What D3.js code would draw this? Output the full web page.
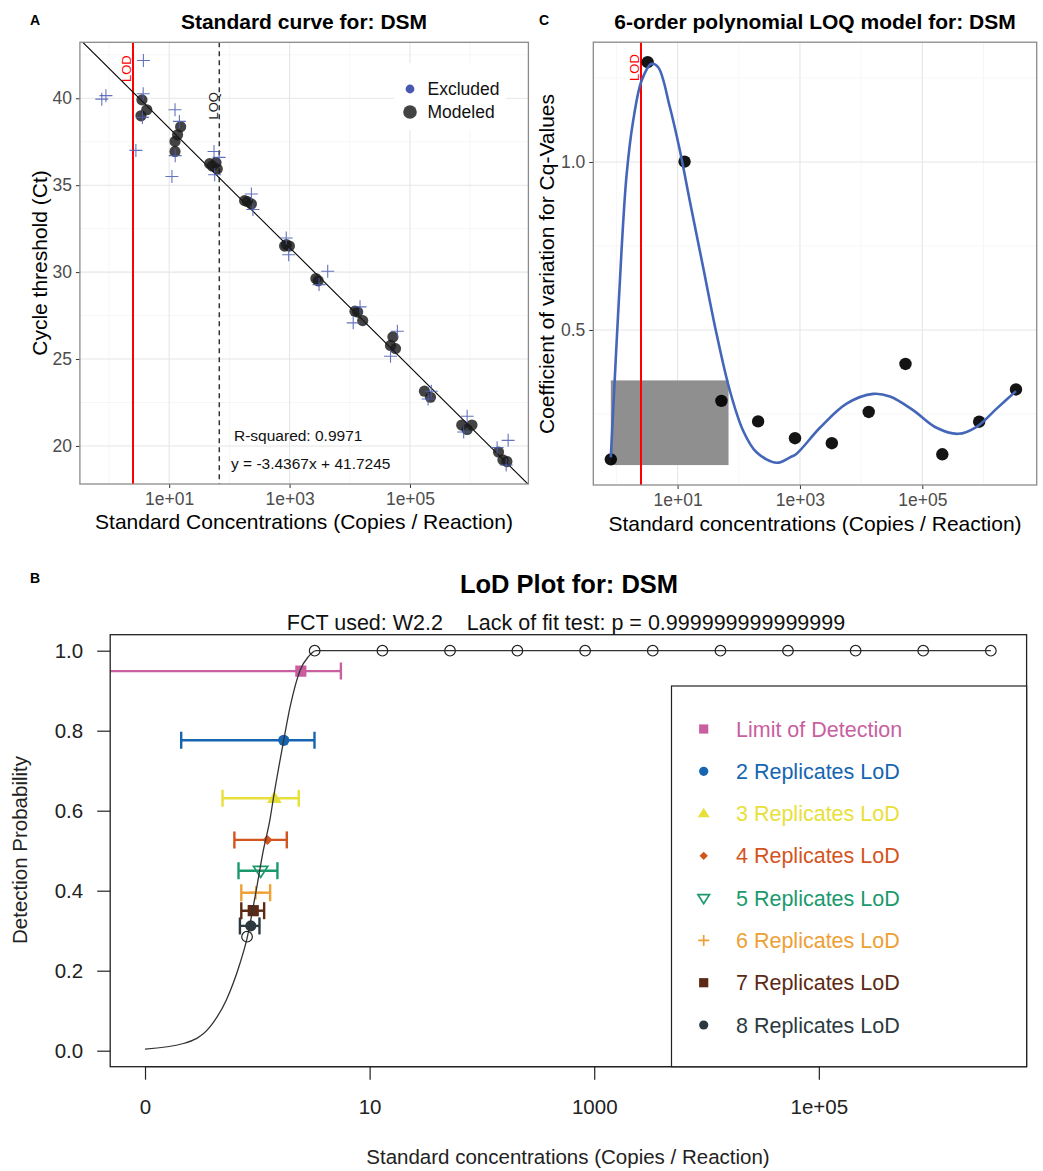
<!DOCTYPE html>
<html><head><meta charset="utf-8">
<script src="https://cdn.jsdelivr.net/npm/d3@7"></script>
<style>
body{margin:0;background:#fff}
text{font-family:"Liberation Sans",Arial,Helvetica,sans-serif}
</style>
</head><body>
<svg id="chart" width="1043" height="1171"></svg>
<script>
// ================= DATA =================
// Panel A : standard curve
const modeledConc = [3.53,3.4,4.25, 15.5,13.8,12.5,12.5, 47,52,63,60, 179,199,232, 883,993,826, 2735,2990, 12200,16400,13500, 47500,52000,57500, 174000,219000, 724000,1070000,890000, 2950000,4070000,3500000];
const modeledCt   = [39.91,38.99,39.34, 38.36,37.9,37.52,36.94, 36.24,36.1,35.93,36.3, 34.11,34.06,33.92, 31.58,31.5,31.5, 29.63,29.5, 27.75,27.21,27.7, 25.78,26.27,25.6, 23.15,22.8, 21.2,21.2,20.95, 19.65,19.1,19.2];
const excludedConc = [0.76,0.89, 3.73,2.8,3.7,3.6, 12.5,11.1,14.8,12.6, 55.6,67.5,57, 232,246, 880,966, 4300,3090, 11400,14800, 47500,61700, 226000,200000, 890000,780000, 4270000,2800000,3960000];
const excludedCt   = [39.95,40.15, 42.17,37.0,40.26,38.9, 39.34,35.5,38.67,36.7, 36.94,36.6,35.6, 34.49,33.6, 31.96,31.0, 30.05,29.28, 27.08,28.0, 25.16,26.6, 23.15,22.7, 21.71,20.8, 20.32,19.9,18.9];
const fitSlope = -3.4367, fitIntercept = 41.7245, rSquared = "0.9971";
const lodValue = 2.55, loqValue = 68;
const aYTicks = [20,25,30,35,40];
const logTicks = [10,1000,100000];
const logTickLabels = ["1e+01","1e+03","1e+05"];

// Panel C : LOQ model
const standardConc = [0.81,3.24,13,52,207,830,3320,13300,53100,212500,850000,3400000];
const cvValues = [0.115,1.297,1.001,0.289,0.228,0.178,0.163,0.256,0.399,0.130,0.227,0.323];
const cvCurveConc = [0.81,1.01,1.22,1.47,1.88,2.58,3.76,4.82,7.48,10.9,15.8,26.2,43.4,71.6,118,195,417,686,883,2120,5790,15800,29600,71300,171000,388000,773000,1640000,3400000];
const cvCurveVal  = [0.121,0.468,0.746,0.964,1.123,1.242,1.292,1.282,1.163,1.034,0.885,0.686,0.488,0.319,0.20,0.136,0.105,0.121,0.132,0.209,0.281,0.310,0.302,0.261,0.209,0.191,0.212,0.266,0.318];
const loqBoxCv = [0.098,0.35];
const cYTicks = [0.5,1.0];

// Panel B : LoD plot
const detectProb = [0.285,1,1,1,1,1,1,1,1,1,1,1];
const lodCurveConc = [0.1,0.22,0.38,0.53,0.70,0.81,0.955,1.13,1.30,1.39,1.71,1.96,2.41,2.85,3.34,3400000];
const lodCurveProb = [0.004,0.018,0.06,0.127,0.218,0.281,0.385,0.50,0.58,0.631,0.773,0.86,0.952,0.985,1.0,1.0];
const lodSeries = ["Limit of Detection","2 Replicates LoD","3 Replicates LoD","4 Replicates LoD","5 Replicates LoD","6 Replicates LoD","7 Replicates LoD","8 Replicates LoD"];
const lodSeriesShape = ["square","circle","triangle","diamond","triDown","plus","square","circle"];
const lodSeriesColor = ["#C95F9F","#1565B0","#E8E03A","#D4541E","#1A9A6C","#EDA035","#5C2A14","#2C3A40"];
const lodSeriesProb = [0.949,0.776,0.631,0.527,0.45,0.395,0.35,0.312];
const lodSeriesEst  = [2.44,1.72,1.42,1.23,1.07,0.97,0.92,0.875];
const lodSeriesLow  = [0.02,0.21,0.49,0.625,0.68,0.72,0.72,0.70];
const lodSeriesHigh = [5.55,3.23,2.34,1.83,1.51,1.30,1.15,1.045];
const bXTicks = [0.1,10,1000,100000];
const bXTickLabels = ["0","10","1000","1e+05"];
const bYTicks = [0,0.2,0.4,0.6,0.8,1.0];

// ================= DRAW =================
const svg = d3.select("#chart");
svg.append("rect").attr("width",1043).attr("height",1171).attr("fill","#fff");
const defs = svg.append("defs");

function ggGrid(g, x, y, xMajor, xMinor, yMajor, yMinor){
  const [x0,x1] = x.range(), [y0,y1] = y.range();
  g.append("rect").attr("x",x0).attr("y",y1).attr("width",x1-x0).attr("height",y0-y1).attr("fill","#fff");
  g.selectAll(null).data(xMinor).join("line").attr("x1",d=>x(d)).attr("x2",d=>x(d)).attr("y1",y1).attr("y2",y0).attr("stroke","#f2f2f2").attr("stroke-width",0.7);
  g.selectAll(null).data(yMinor).join("line").attr("y1",d=>y(d)).attr("y2",d=>y(d)).attr("x1",x0).attr("x2",x1).attr("stroke","#f2f2f2").attr("stroke-width",0.7);
  g.selectAll(null).data(xMajor).join("line").attr("x1",d=>x(d)).attr("x2",d=>x(d)).attr("y1",y1).attr("y2",y0).attr("stroke","#e6e6e6").attr("stroke-width",1.1);
  g.selectAll(null).data(yMajor).join("line").attr("y1",d=>y(d)).attr("y2",d=>y(d)).attr("x1",x0).attr("x2",x1).attr("stroke","#e6e6e6").attr("stroke-width",1.1);
}
function ggAxes(g, x, y, yTicks, yFmt){
  const [x0,x1] = x.range(), [y0,y1] = y.range();
  const ax = g.append("g").attr("transform",`translate(0,${y0})`)
    .call(d3.axisBottom(x).tickValues(logTicks).tickFormat((d,i)=>logTickLabels[i]).tickSize(4).tickPadding(5));
  const ay = g.append("g").attr("transform",`translate(${x0},0)`)
    .call(d3.axisLeft(y).tickValues(yTicks).tickFormat(yFmt).tickSize(4).tickPadding(4));
  [ax,ay].forEach(a=>{
    a.select(".domain").remove();
    a.selectAll(".tick line").attr("stroke","#333");
    a.selectAll(".tick text").attr("fill","#4d4d4d").style("font-size","17.5px").style("font-family",'"Liberation Sans",Arial,sans-serif');
  });
  g.append("rect").attr("x",x0).attr("y",y1).attr("width",x1-x0).attr("height",y0-y1)
    .attr("fill","none").attr("stroke","#8a8a8a").attr("stroke-width",1.3);
}
function clip(id, x, y){
  const [x0,x1] = x.range(), [y0,y1] = y.range();
  defs.append("clipPath").attr("id",id).append("rect").attr("x",x0).attr("y",y1).attr("width",x1-x0).attr("height",y0-y1);
  return `url(#${id})`;
}
// align a 2px vertical line on an odd pixel boundary so its colour survives
const snap2 = v => 2*Math.round((v-1)/2) + 1;
function redLine(g, xpos, y){
  g.append("rect").attr("x",snap2(xpos)-1).attr("y",y.range()[1]).attr("width",2).attr("height",y.range()[0]-y.range()[1])
    .attr("fill","#ff0000").attr("shape-rendering","crispEdges");
}

// ---------- Panel A ----------
const A = svg.append("g");
const xA = d3.scaleLog().domain([10**-0.483, 10**6.967]).range([79.9,528.4]);
const yA = d3.scaleLinear().domain([17.81,43.22]).range([484,42.3]);
ggGrid(A, xA, yA, logTicks, [1,100,10000,1000000], aYTicks, [22.5,27.5,32.5,37.5,42.5]);
const aPlot = A.append("g").attr("clip-path", clip("clipA", xA, yA));
redLine(aPlot, xA(lodValue), yA);
aPlot.append("line").attr("x1",xA(loqValue)).attr("x2",xA(loqValue)).attr("y1",yA.range()[1]).attr("y2",yA.range()[0]).attr("stroke","#333").attr("stroke-width",1.5).attr("stroke-dasharray","5,4");
const dA = xA.domain();
aPlot.append("line")
  .attr("x1",xA(dA[0])).attr("y1",yA(fitSlope*Math.log10(dA[0])+fitIntercept))
  .attr("x2",xA(dA[1])).attr("y2",yA(fitSlope*Math.log10(dA[1])+fitIntercept))
  .attr("stroke","#000").attr("stroke-width",1.1);
aPlot.selectAll(null).data(d3.range(modeledConc.length)).join("circle")
  .attr("cx",i=>xA(modeledConc[i])).attr("cy",i=>yA(modeledCt[i])).attr("r",5.6)
  .attr("fill","#1a1a1a").attr("fill-opacity",0.82);
aPlot.selectAll(null).data(d3.range(excludedConc.length)).join("path")
  .attr("transform",i=>`translate(${xA(excludedConc[i])},${yA(excludedCt[i])})`)
  .attr("d","M-6.5,0H6.5M0,-6.5V6.5").attr("stroke","#4a5ab2").attr("stroke-opacity",0.85).attr("stroke-width",1.1).attr("fill","none");
aPlot.append("text").attr("transform",`translate(${xA(lodValue)-2},${yA(41.7)}) rotate(-90)`)
  .attr("text-anchor","middle").attr("fill","#ff0000").style("font-size","13px").text("LOD");
aPlot.append("text").attr("transform",`translate(${xA(loqValue)-1.5},${yA(39.57)}) rotate(-90)`)
  .attr("text-anchor","middle").attr("fill","#222").style("font-size","13px").text("LOQ");
A.append("text").attr("x",234).attr("y",440.5).attr("fill","#111").style("font-size","15.5px").text("R-squared: " + rSquared);
A.append("text").attr("x",231).attr("y",468.5).attr("fill","#111").style("font-size","15.5px")
  .text(`y = ${fitSlope}x + ${fitIntercept}`);
// legend A
A.append("rect").attr("x",394).attr("y",63).attr("width",112).attr("height",67).attr("fill","#fff");
A.append("circle").attr("cx",410).attr("cy",89).attr("r",4.4).attr("fill","#4658b0");
A.append("circle").attr("cx",410).attr("cy",112).attr("r",6.8).attr("fill","#1a1a1a").attr("fill-opacity",0.82);
A.append("text").attr("x",427.5).attr("y",95).style("font-size","17.5px").attr("fill","#111").text("Excluded");
A.append("text").attr("x",427.5).attr("y",118).style("font-size","17.5px").attr("fill","#111").text("Modeled");
ggAxes(A, xA, yA, aYTicks, d3.format("d"));
A.append("text").attr("x",304).attr("y",29).attr("text-anchor","middle").style("font-size","21px").style("font-weight","bold").attr("fill","#000").text("Standard curve for: DSM");
A.append("text").attr("x",30).attr("y",25).style("font-size","14px").style("font-weight","bold").text("A");
A.append("text").attr("x",304).attr("y",529).attr("text-anchor","middle").style("font-size","21px").attr("fill","#000").text("Standard Concentrations (Copies / Reaction)");
A.append("text").attr("transform","translate(47,263) rotate(-90)").attr("text-anchor","middle").style("font-size","21px").attr("fill","#000").text("Cycle threshold (Ct)");

// ---------- Panel C ----------
const C = svg.append("g");
const xC = d3.scaleLog().domain([10**-0.378, 10**6.87]).range([593.3,1036.7]);
const yC = d3.scaleLinear().domain([0.0387,1.3565]).range([485,42.2]);
ggGrid(C, xC, yC, logTicks, [1,100,10000,1000000], cYTicks, [0.25,0.75,1.25]);
const cPlot = C.append("g").attr("clip-path", clip("clipC", xC, yC));
cPlot.append("rect").attr("x",xC(standardConc[0])).attr("y",yC(loqBoxCv[1]))
  .attr("width",xC(loqValue)-xC(standardConc[0])).attr("height",yC(loqBoxCv[0])-yC(loqBoxCv[1])).attr("fill","#8f8f8f");
redLine(cPlot, xC(lodValue), yC);
cPlot.append("text").attr("transform",`translate(${xC(lodValue)-2},${yC(1.281)}) rotate(-90)`)
  .attr("text-anchor","middle").attr("fill","#ff0000").style("font-size","13px").text("LOD");
cPlot.selectAll(null).data(d3.range(standardConc.length)).join("circle")
  .attr("cx",i=>xC(standardConc[i])).attr("cy",i=>yC(cvValues[i])).attr("r",6.2).attr("fill","#000").attr("fill-opacity",0.92);
cPlot.append("path").datum(d3.range(cvCurveConc.length))
  .attr("d", d3.line().x(i=>xC(cvCurveConc[i])).y(i=>yC(cvCurveVal[i])).curve(d3.curveCatmullRom.alpha(0.5)))
  .attr("fill","none").attr("stroke","#4466b8").attr("stroke-width",2.6);
ggAxes(C, xC, yC, cYTicks, d3.format(".1f"));
C.append("text").attr("x",815).attr("y",29).attr("text-anchor","middle").style("font-size","21px").style("font-weight","bold").text("6-order polynomial LOQ model for: DSM");
C.append("text").attr("x",539).attr("y",25).style("font-size","14px").style("font-weight","bold").text("C");
C.append("text").attr("x",815).attr("y",531).attr("text-anchor","middle").style("font-size","21px").text("Standard concentrations (Copies / Reaction)");
C.append("text").attr("transform","translate(554,264) rotate(-90)").attr("text-anchor","middle").style("font-size","21px").text("Coefficient of variation for Cq-Values");

// ---------- Panel B ----------
const B = svg.append("g");
const xB = d3.scaleLog().domain([10**-1.31, 10**6.85]).range([110.2,1026.6]);
const yB = d3.scaleLinear().domain([-0.04,1.04]).range([1066.7,634.7]);
const bPlot = B.append("g").attr("clip-path", clip("clipB", xB, yB));

function markerPath(shape, s){
  switch(shape){
    case "square": return `M${-s},${-s}H${s}V${s}H${-s}Z`;
    case "triangle": return `M0,${-s*1.15}L${s*1.2},${s*0.75}L${-s*1.2},${s*0.75}Z`;
    case "diamond": return `M0,${-s}L${s},0L0,${s}L${-s},0Z`;
    case "triDown": return `M${-s*1.15},${-s*0.7}L${s*1.15},${-s*0.7}L0,${s*1.1}Z`;
    case "plus": return `M${-s*1.2},0H${s*1.2}M0,${-s*1.2}V${s*1.2}`;
  }
}
function drawMarker(g, shape, color, s, cx, cy){
  if(shape==="circle"){
    g.append("circle").attr("cx",cx).attr("cy",cy).attr("r",s).attr("fill",color);
    return;
  }
  const open = (shape==="triDown"||shape==="plus");
  g.append("path").attr("transform",`translate(${cx},${cy})`).attr("d",markerPath(shape,s))
    .attr("fill",open?"none":color).attr("stroke",open?color:"none").attr("stroke-width",1.7);
}
const barOrder = d3.range(lodSeries.length).reverse();
barOrder.forEach(i=>{
  const g = bPlot.append("g").attr("stroke",lodSeriesColor[i]).attr("stroke-width",2.4);
  const y = yB(lodSeriesProb[i]);
  const cap = 8.5;
  g.append("line").attr("x1",xB(lodSeriesLow[i])).attr("x2",xB(lodSeriesHigh[i])).attr("y1",y).attr("y2",y);
  g.append("line").attr("x1",xB(lodSeriesLow[i])).attr("x2",xB(lodSeriesLow[i])).attr("y1",y-cap).attr("y2",y+cap);
  g.append("line").attr("x1",xB(lodSeriesHigh[i])).attr("x2",xB(lodSeriesHigh[i])).attr("y1",y-cap).attr("y2",y+cap);
  const shp = lodSeriesShape[i];
  const size = shp==="circle"?5.6:(shp==="diamond"?5:(shp==="triangle"||shp==="triDown"?6.2:5.6));
  drawMarker(bPlot, shp, lodSeriesColor[i], size, xB(lodSeriesEst[i]), y);
});
bPlot.append("path").datum(d3.range(lodCurveConc.length))
  .attr("d", d3.line().x(i=>xB(lodCurveConc[i])).y(i=>yB(lodCurveProb[i])).curve(d3.curveMonotoneX))
  .attr("fill","none").attr("stroke","#333").attr("stroke-width",1.3);
bPlot.selectAll(null).data(d3.range(standardConc.length)).join("circle")
  .attr("cx",i=>xB(standardConc[i])).attr("cy",i=>yB(detectProb[i])).attr("r",5.3)
  .attr("fill","none").attr("stroke","#222").attr("stroke-width",1.2);
// box
B.append("rect").attr("x",xB.range()[0]).attr("y",yB.range()[1]).attr("width",xB.range()[1]-xB.range()[0]).attr("height",yB.range()[0]-yB.range()[1])
  .attr("fill","none").attr("stroke","#222").attr("stroke-width",1.3);
// axes
const bx = B.append("g").attr("transform",`translate(0,${yB.range()[0]})`)
  .call(d3.axisBottom(xB).tickValues(bXTicks).tickFormat((d,i)=>bXTickLabels[i]).tickSize(13).tickPadding(20));
const by = B.append("g").attr("transform",`translate(${xB.range()[0]},0)`)
  .call(d3.axisLeft(yB).tickValues(bYTicks).tickFormat(d3.format(".1f")).tickSize(13).tickPadding(14));
[bx,by].forEach(a=>{
  a.select(".domain").remove();
  a.selectAll(".tick line").attr("stroke","#222").attr("stroke-width",1.2);
  a.selectAll(".tick text").attr("fill","#222").style("font-size","20.5px").style("font-family",'"Liberation Sans",Arial,sans-serif');
});
B.append("line").attr("x1",xB(bXTicks[0])).attr("x2",xB(bXTicks[bXTicks.length-1])).attr("y1",yB.range()[0]).attr("y2",yB.range()[0]).attr("stroke","#222").attr("stroke-width",1.2);
// legend
const lgX0 = 671.5, lgY0 = 686;
B.append("rect").attr("x",lgX0).attr("y",lgY0).attr("width",xB.range()[1]-lgX0).attr("height",yB.range()[0]-lgY0)
  .attr("fill","#fff").attr("stroke","#222").attr("stroke-width",1.2);
const rowY = d3.scaleLinear().domain([0,lodSeries.length-1]).range([729,1025]);
lodSeries.forEach((name,i)=>{
  const shp = lodSeriesShape[i];
  const s = shp==="circle"?4.6:(shp==="diamond"?4.2:(shp==="triangle"||shp==="triDown"?5:4.6));
  drawMarker(B, shp, lodSeriesColor[i], s, 703.7, rowY(i));
  B.append("text").attr("x",736).attr("y",rowY(i)+7.5).attr("fill",lodSeriesColor[i]).style("font-size","21.5px").text(name);
});
B.append("text").attr("x",569).attr("y",593).attr("text-anchor","middle").style("font-size","25.5px").style("font-weight","bold").text("LoD Plot for: DSM");
B.append("text").attr("x",566).attr("y",629.5).attr("text-anchor","middle").style("font-size","21.5px").style("white-space","pre").attr("fill","#111")
  .text("FCT used: W2.2    Lack of fit test: p = 0.999999999999999");
B.append("text").attr("x",30).attr("y",583).style("font-size","14px").style("font-weight","bold").text("B");
B.append("text").attr("x",568).attr("y",1164).attr("text-anchor","middle").style("font-size","20.5px").attr("fill","#222").text("Standard concentrations (Copies / Reaction)");
B.append("text").attr("transform","translate(27,850) rotate(-90)").attr("text-anchor","middle").style("font-size","20.5px").attr("fill","#222").text("Detection Probability");
</script>
</body></html>
